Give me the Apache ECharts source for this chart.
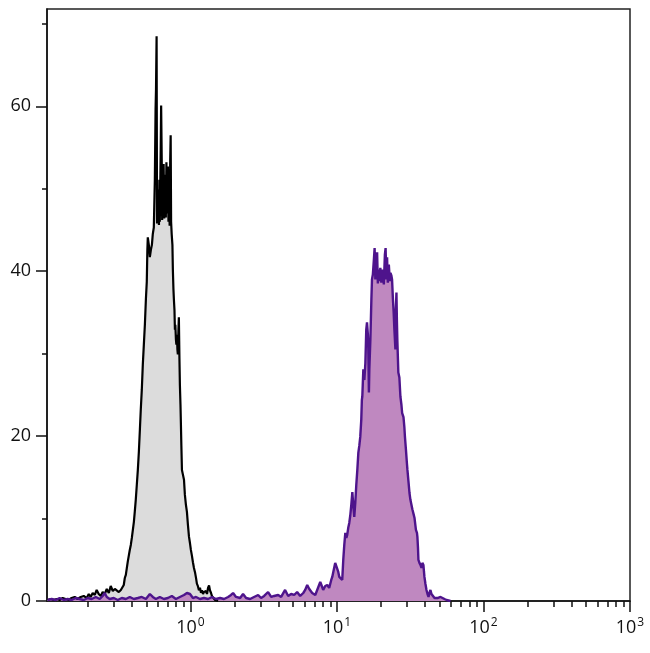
<!DOCTYPE html>
<html><head><meta charset="utf-8">
<script src="https://cdn.jsdelivr.net/npm/echarts@6/dist/echarts.min.js"></script>
<style>html,body{margin:0;padding:0;background:#fff}#c{width:650px;height:653px}</style>
</head><body><div id="c"></div>
<script>
// log10 fluorescence intensity and event counts
const grayLogX = [
-0.975,-0.954,-0.934,-0.913,-0.893,-0.872,-0.852,-0.831,-0.811,-0.790,
-0.770,-0.749,-0.728,-0.708,-0.694,-0.681,-0.667,-0.653,-0.640,-0.626,
-0.612,-0.599,-0.585,-0.571,-0.557,-0.544,-0.530,-0.516,-0.503,-0.489,
-0.475,-0.462,
-0.455,-0.448,-0.441,-0.434,-0.428,-0.421,-0.414,-0.407,-0.400,-0.393,
-0.386,-0.380,-0.373,-0.366,-0.359,-0.352,-0.345,-0.339,-0.332,-0.325,
-0.318,-0.311,-0.304,-0.298,-0.294,-0.291,-0.284,-0.277,-0.270,-0.263,
-0.257,-0.250,-0.243,-0.238,-0.235,-0.231,-0.228,-0.224,-0.219,-0.215,
-0.212,-0.209,-0.203,-0.200,-0.196,-0.193,-0.189,-0.186,-0.183,-0.179,
-0.174,-0.171,-0.168,-0.164,-0.161,-0.157,-0.154,-0.150,-0.147,-0.142,
-0.138,-0.135,-0.132,-0.128,-0.123,-0.120,-0.116,-0.113,-0.109,-0.106,
-0.103,-0.099,-0.096,-0.092,-0.089,-0.086,-0.082,-0.079,-0.075,-0.072,
-0.068,-0.065,-0.062,-0.058,-0.051,-0.044,-0.038,-0.031,-0.024,-0.017,
-0.010,-0.003,0.003,0.010,0.017,0.024,0.031,0.038,0.044,0.051,
0.058,0.065,0.072,0.079,0.086,0.092,0.099,0.106,0.113,0.120,
0.127,0.133,0.140,0.147,0.154,0.168,0.188];
const grayCount = [
0.12,0.24,0.12,0.24,0.12,0.36,0.24,0.12,0.36,0.49,
0.24,0.49,0.61,0.36,0.85,0.49,0.97,0.73,1.34,0.85,
0.61,1.09,0.85,1.46,0.97,1.82,1.21,1.46,1.58,1.09,
1.34,1.46,
1.94,2.79,3.16,4.01,4.74,5.47,6.19,6.80,7.65,8.62,
9.60,10.8,12.3,14.1,15.9,18.1,20.8,23.2,25.6,28.7,
31.1,33.5,36.6,38.7,42.6,44.1,43.2,41.7,42.6,43.2,
44.5,45.3,51.1,59.6,62.1,68.5,45.8,47.5,49.9,45.6,
51.1,46.0,54.8,60.1,53.6,46.2,51.1,47.0,53.0,46.4,
49.0,51.7,46.5,53.2,47.0,51.1,52.7,46.0,50.5,45.5,
53.6,56.5,46.0,44.5,43.2,40.2,37.8,36.6,35.3,32.9,
33.5,31.7,31.1,32.3,30.5,29.9,32.9,34.4,29.3,26.2,
23.8,21.4,18.9,15.9,15.3,14.7,12.9,11.7,10.8,9.2,
7.8,7.0,6.2,5.5,4.7,4.0,3.5,2.8,2.1,1.8,
1.3,1.6,1.0,1.3,0.85,1.1,1.0,1.2,0.85,1.6,
1.9,1.3,1.0,0.6,0.36,0.12,0];

const purpleLogX = [
-0.975,-0.947,-0.920,-0.893,-0.865,-0.838,-0.811,-0.783,-0.756,-0.728,
-0.701,-0.674,-0.646,-0.619,-0.599,-0.585,-0.571,-0.551,-0.523,-0.496,
-0.469,-0.441,-0.414,-0.386,-0.359,-0.332,-0.304,-0.277,-0.257,-0.236,
-0.209,-0.181,-0.154,-0.127,-0.099,-0.072,-0.044,-0.024,-0.003,0.017,
0.038,0.065,0.092,0.120,0.147,0.174,0.202,0.229,0.257,0.277,
0.291,0.311,0.339,0.359,0.380,0.407,0.434,0.462,0.482,0.503,
0.530,0.551,0.571,0.599,0.619,0.646,0.667,0.687,0.708,0.728,
0.749,0.770,0.783,0.797,0.811,0.831,0.852,0.865,0.886,0.899,
0.906,0.920,0.934,0.947,0.961,0.968,0.975,0.988,0.995,1.002,
1.009,1.016,1.023,1.036,1.043,1.050,1.057,1.064,1.070,1.077,
1.084,1.091,1.098,1.105,1.112,1.118,1.125,1.132,1.139,1.146,
1.153,1.159,1.166,1.170,1.173,1.176,1.180,1.183,1.187,1.194,
1.200,1.205,1.211,1.214,1.218,1.221,1.228,1.235,1.239,1.245,
1.252,1.257,1.262,1.269,1.274,1.279,1.283,1.289,1.296,1.303,
1.308,1.313,1.320,1.327,1.332,1.337,1.342,1.347,1.354,1.361,
1.365,1.371,1.376,1.382,1.387,1.392,1.399,1.402,1.406,1.409,
1.412,1.419,1.426,1.433,1.440,1.445,1.454,1.460,1.464,1.471,
1.477,1.481,1.488,1.495,1.501,1.508,1.515,1.522,1.529,1.536,
1.539,1.546,1.549,1.553,1.556,1.563,1.570,1.577,1.583,1.590,
1.594,1.597,1.604,1.611,1.618,1.625,1.631,1.638,1.645,1.652,
1.666,1.686,1.707,1.720,1.734,1.748,1.775];
const purpleCount = [
0.12,0.24,0.12,0.36,0.12,0.24,0.12,0.36,0.24,0.12,
0.36,0.24,0.49,0.24,0.61,0.97,0.49,0.24,0.36,0.12,
0.36,0.24,0.49,0.24,0.36,0.49,0.24,0.85,0.49,0.24,
0.49,0.24,0.36,0.61,0.24,0.49,0.73,0.97,0.85,0.36,
0.49,0.24,0.36,0.24,0.49,0.24,0.36,0.24,0.49,0.73,
0.97,0.49,0.36,0.85,0.36,0.24,0.49,0.73,0.36,0.61,
1.09,0.49,0.61,0.73,0.49,1.34,0.61,0.85,0.73,1.09,
0.61,0.97,1.34,1.94,1.46,0.97,0.73,0.61,2.31,1.70,
1.34,1.82,1.94,1.58,2.55,2.92,3.52,4.62,4.25,4.13,
3.52,2.92,3.16,2.55,4.98,6.80,8.26,7.65,8.02,8.87,
9.47,10.4,11.7,13.2,11.4,10.2,11.9,14.1,15.9,18.0,
18.9,19.9,22.0,24.4,24.8,26.2,28.1,27.5,26.8,28.9,
32.9,33.8,32.3,30.5,25.3,28.1,31.7,36.6,39.0,39.6,
41.4,42.8,39.0,40.8,42.3,38.5,40.2,38.8,40.4,38.6,
39.4,40.2,38.4,42.0,42.8,39.0,41.7,38.6,40.8,38.8,
39.8,39.5,39.0,36.6,35.0,32.9,30.5,35.3,37.4,34.1,
31.7,27.7,27.1,24.8,23.8,22.8,22.3,21.1,19.9,18.3,
16.8,15.9,14.5,13.1,12.3,11.7,11.1,10.6,10.1,10.2,
8.62,8.26,7.77,6.44,4.98,4.62,4.37,4.01,4.62,4.37,
3.52,2.92,2.06,1.34,0.85,0.49,0.97,1.34,0.85,0.61,
0.36,0.36,0.49,0.61,0.24,0.12,0];

const xDecades = [0, 1, 2, 3];              // labelled ticks 10^0 .. 10^3
const xMinorDecades = [-1, 0, 1, 2];
const xMinorMultipliers = [2, 3, 4, 5, 6, 7, 8, 9];
const yMajorTicks = [0, 20, 40, 60];
const yMinorTicks = [10, 30, 50, 70];
const xMin = -0.979, xMax = 3, yMin = 0, yMax = 71.8;

const xMinorTicks = [];
xMinorDecades.forEach(d => xMinorMultipliers.forEach(m => xMinorTicks.push(d + Math.log10(m))));

const FONT = 'Open Sans';
const AX = '#111';
const zip = (xs, ys) => xs.map((x, i) => [x, ys[i]]);

const chart = echarts.init(document.getElementById('c'), null, {renderer: 'canvas'});
chart.setOption({
  animation: false,
  backgroundColor: '#fff',
  grid: {left: 47, right: 20, top: 9, bottom: 52, show: true, borderColor: '#222', borderWidth: 1.5, backgroundColor: 'transparent'},
  xAxis: [
    {type: 'value', min: xMin, max: xMax, position: 'bottom',
     axisLine: {onZero: false, lineStyle: {color: AX, width: 1.5}},
     axisTick: {customValues: xDecades, length: 11, lineStyle: {color: AX, width: 1.5}},
     splitLine: {show: false},
     axisLabel: {customValues: xDecades, margin: 16,
       formatter: v => '{b|10}{s|' + Math.round(v) + '}',
       rich: {b: {fontFamily: FONT, fontSize: 18, color: '#111', lineHeight: 20, verticalAlign: 'bottom'},
              s: {fontFamily: FONT, fontSize: 12, color: '#111', lineHeight: 20, verticalAlign: 'top', padding: [0, 0, 0, 1]}}}},
    {type: 'value', min: xMin, max: xMax, position: 'bottom',
     axisLine: {show: false, onZero: false},
     axisTick: {customValues: xMinorTicks, length: 6, lineStyle: {color: AX, width: 1.5}},
     axisLabel: {show: false}, splitLine: {show: false}}
  ],
  yAxis: [
    {type: 'value', min: yMin, max: yMax, position: 'left',
     axisLine: {show: true, onZero: false, lineStyle: {color: AX, width: 1.5}},
     axisTick: {show: true, customValues: yMajorTicks, length: 11, lineStyle: {color: AX, width: 1.5}},
     splitLine: {show: false},
     axisLabel: {customValues: yMajorTicks, margin: 16, fontFamily: FONT, fontSize: 18, color: '#111'}},
    {type: 'value', min: yMin, max: yMax, position: 'left',
     axisLine: {show: false, onZero: false},
     axisTick: {show: true, customValues: yMinorTicks, length: 5, lineStyle: {color: AX, width: 1.5}},
     axisLabel: {show: false}, splitLine: {show: false}}
  ],
  series: [
    {type: 'line', xAxisIndex: 0, yAxisIndex: 0, data: zip(grayLogX, grayCount), showSymbol: false, symbol: 'none',
     lineStyle: {color: '#000', width: 2.2}, areaStyle: {color: '#dcdcdc', opacity: 1}},
    {type: 'line', xAxisIndex: 0, yAxisIndex: 0, data: zip(purpleLogX, purpleCount), showSymbol: false, symbol: 'none',
     lineStyle: {color: '#4e148c', width: 2.4}, areaStyle: {color: '#bf88c0', opacity: 1}}
  ]
});
</script>
</body></html>
